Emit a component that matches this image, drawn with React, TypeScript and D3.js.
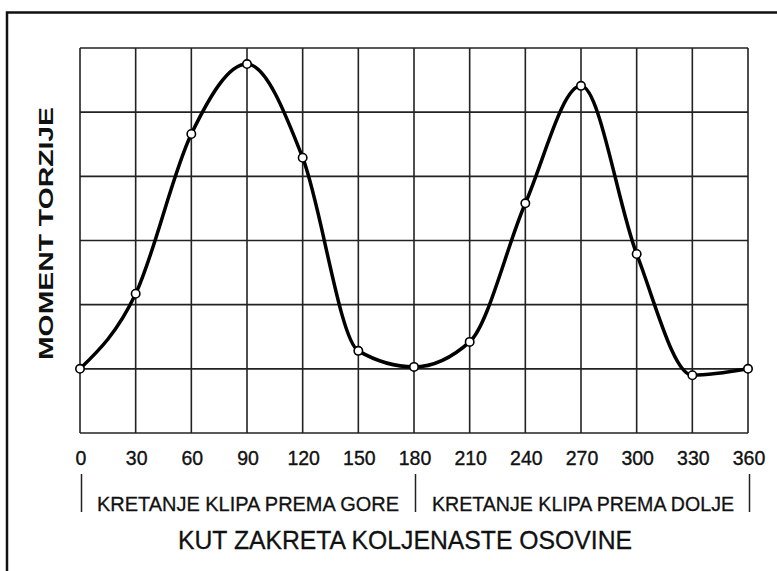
import React from 'react'
import * as d3 from 'd3'

// crank angle (deg) and torque in grid units (0 = bottom line of the grid)
const angles = [0, 30, 60, 90, 120, 150, 180, 210, 240, 270, 300, 330, 360]
const torque = [1.0, 2.17, 4.66, 5.75, 4.29, 1.28, 1.03, 1.42, 3.58, 5.41, 2.79, 0.9, 1.0]
const gridRows = [0, 1, 2, 3, 4, 5, 6]
const strokeLabels = ['KRETANJE KLIPA PREMA GORE', 'KRETANJE KLIPA PREMA DOLJE']
const strokeBounds = [0, 180, 360]

const W = 777
const H = 571
const font = '"Liberation Sans", Arial, sans-serif'

const App = () => {
  const x = d3.scaleLinear().domain([0, 360]).range([80, 748])
  const y = d3.scaleLinear().domain([0, 6]).range([433, 48])

  const data = angles.map((a, i) => ({ a, v: torque[i] }))
  const line = d3
    .line<{ a: number; v: number }>()
    .x((d) => x(d.a))
    .y((d) => y(d.v))
    .curve(d3.curveMonotoneX)

  return (
    <svg
      width={W}
      height={H}
      style={{ position: 'fixed', left: 0, top: 0, background: '#fff' }}
    >
      <rect x={0} y={0} width={W} height={H} fill="#fff" />
      {/* outer frame, runs off the right and bottom edge */}
      <rect x={7} y={12.5} width={W + 10} height={H + 10} fill="none" stroke="#111" strokeWidth={2.5} />

      {/* grid */}
      <g stroke="#222" strokeWidth={1.6}>
        {angles.map((a) => (
          <line key={'v' + a} x1={x(a)} x2={x(a)} y1={y(6)} y2={y(0)} />
        ))}
        {gridRows.map((r) => (
          <line key={'h' + r} x1={x(0)} x2={x(360)} y1={y(r)} y2={y(r)} />
        ))}
      </g>

      <path d={line(data) || ''} fill="none" stroke="#000" strokeWidth={3.5} />
      {data.map((d) => (
        <circle key={d.a} cx={x(d.a)} cy={y(d.v)} r={4.2} fill="#fff" stroke="#000" strokeWidth={1.6} />
      ))}

      {/* tick labels */}
      <g fontFamily={font} fontSize={19.5} textAnchor="middle" fill="#111" stroke="#111" strokeWidth={0.35}>
        {angles.map((a) => (
          <text key={'t' + a} x={x(a) + 1} y={465}>
            {a}
          </text>
        ))}
      </g>

      {/* stroke markers */}
      <g stroke="#222" strokeWidth={1.5}>
        {strokeBounds.map((b) => (
          <line key={'s' + b} x1={x(b) + 1.5} x2={x(b) + 1.5} y1={474} y2={512} />
        ))}
      </g>
      <g fontFamily={font} fontSize={21} fill="#111" stroke="#111" strokeWidth={0.3}>
        {strokeLabels.map((s, i) => (
          <text
            key={s}
            x={x(strokeBounds[i]) + (i === 0 ? 17 : 18)}
            y={511}
            textLength={302}
            lengthAdjust="spacingAndGlyphs"
          >
            {s}
          </text>
        ))}
      </g>

      <text
        x={178}
        y={549}
        fontFamily={font}
        fontSize={26.5}
        fill="#111"
        stroke="#111"
        strokeWidth={0.3}
        textLength={454}
        lengthAdjust="spacingAndGlyphs"
      >
        KUT ZAKRETA KOLJENASTE OSOVINE
      </text>

      <text
        transform="translate(53, 360) rotate(-90)"
        fontFamily={font}
        fontSize={21}
        fontWeight="bold"
        fill="#111"
        textLength={253}
        lengthAdjust="spacingAndGlyphs"
      >
        MOMENT TORZIJE
      </text>
    </svg>
  )
}

export default App
